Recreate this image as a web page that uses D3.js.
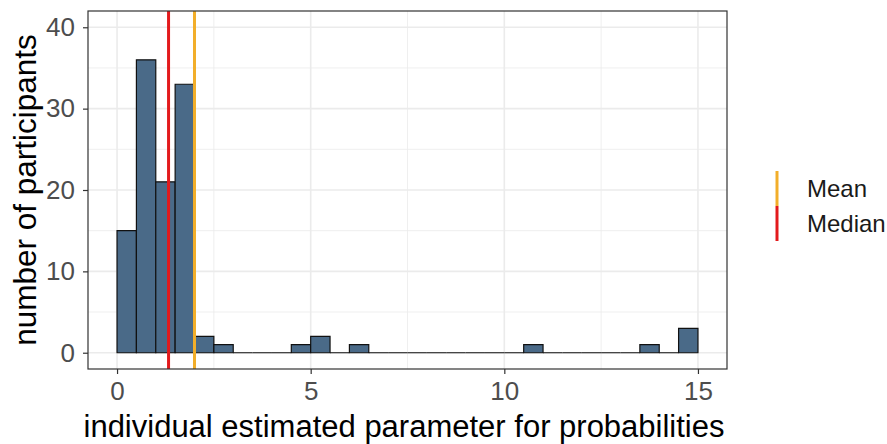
<!DOCTYPE html>
<html>
<head>
<meta charset="utf-8">
<script src="https://cdn.jsdelivr.net/npm/d3@7"></script>
<style>
  html, body { margin: 0; padding: 0; background: #fff; }
  svg { display: block; font-family: "Liberation Sans", Arial, sans-serif; }
</style>
</head>
<body>
<svg id="chart" width="887" height="444"></svg>
<script>
// Histogram bins (lower edge, upper edge) and participant counts
const binLower = [0, 0.5, 1, 1.5, 2, 2.5, 3, 3.5, 4, 4.5, 5, 5.5, 6, 6.5, 7, 7.5, 8, 8.5, 9, 9.5, 10, 10.5, 11, 11.5, 12, 12.5, 13, 13.5, 14, 14.5];
const binUpper = [0.5, 1, 1.5, 2, 2.5, 3, 3.5, 4, 4.5, 5, 5.5, 6, 6.5, 7, 7.5, 8, 8.5, 9, 9.5, 10, 10.5, 11, 11.5, 12, 12.5, 13, 13.5, 14, 14.5, 15];
const counts   = [15, 36, 21, 33, 2, 1, 0, 0, 0, 1, 2, 0, 1, 0, 0, 0, 0, 0, 0, 0, 0, 1, 0, 0, 0, 0, 0, 1, 0, 3];

// Summary statistics shown as vertical lines
const statNames  = ["Mean", "Median"];
const statValues = [2.0, 1.33];
const statColors = ["#F2AE2A", "#E31A1C"];

// Axis ticks
const xTicks = [0, 5, 10, 15];
const xMinor = [2.5, 7.5, 12.5];
const yTicks = [0, 10, 20, 30, 40];
const yMinor = [5, 15, 25, 35];

const svg = d3.select("#chart");
const panel = { left: 88, right: 727, top: 11, bottom: 369 };

const x = d3.scaleLinear().domain([-0.75, 15.75]).range([panel.left, panel.right]);
const y = d3.scaleLinear().domain([-2, 42]).range([panel.bottom, panel.top]);

const gridColor = "#EBEBEB";

// Grid lines
const grid = svg.append("g");
grid.selectAll(".ym").data(yMinor).join("line")
  .attr("x1", panel.left).attr("x2", panel.right)
  .attr("y1", d => y(d)).attr("y2", d => y(d))
  .attr("stroke", gridColor).attr("stroke-width", 0.8);
grid.selectAll(".xm").data(xMinor).join("line")
  .attr("y1", panel.top).attr("y2", panel.bottom)
  .attr("x1", d => x(d)).attr("x2", d => x(d))
  .attr("stroke", gridColor).attr("stroke-width", 0.8);
grid.selectAll(".yM").data(yTicks).join("line")
  .attr("x1", panel.left).attr("x2", panel.right)
  .attr("y1", d => y(d)).attr("y2", d => y(d))
  .attr("stroke", gridColor).attr("stroke-width", 1.6);
grid.selectAll(".xM").data(xTicks).join("line")
  .attr("y1", panel.top).attr("y2", panel.bottom)
  .attr("x1", d => x(d)).attr("x2", d => x(d))
  .attr("stroke", gridColor).attr("stroke-width", 1.6);

// Bars (drawn as paths so empty bins still show their outline at zero)
const bars = binLower.map((lo, i) => ({ lo, hi: binUpper[i], n: counts[i] }));
svg.append("g").selectAll("path").data(bars).join("path")
  .attr("d", d => `M${x(d.lo)},${y(0)}V${y(d.n)}H${x(d.hi)}V${y(0)}Z`)
  .attr("fill", "#4A6A88")
  .attr("stroke", "#111")
  .attr("stroke-width", 1.2);

// Mean / median lines
const stats = statNames.map((name, i) => ({ name, value: statValues[i], color: statColors[i] }));
svg.append("g").selectAll("line").data(stats.slice().reverse()).join("line")
  .attr("x1", d => x(d.value)).attr("x2", d => x(d.value))
  .attr("y1", panel.top).attr("y2", panel.bottom)
  .attr("stroke", d => d.color).attr("stroke-width", 3);

// Panel border
svg.append("rect")
  .attr("x", panel.left).attr("y", panel.top)
  .attr("width", panel.right - panel.left).attr("height", panel.bottom - panel.top)
  .attr("fill", "none").attr("stroke", "#333").attr("stroke-width", 1.2);

// Axes
const xAxis = d3.axisBottom(x).tickValues(xTicks).tickSize(5).tickPadding(8).tickFormat(d3.format("d"));
const yAxis = d3.axisLeft(y).tickValues(yTicks).tickSize(5).tickPadding(8).tickFormat(d3.format("d"));

const gx = svg.append("g").attr("transform", `translate(0,${panel.bottom})`).call(xAxis);
const gy = svg.append("g").attr("transform", `translate(${panel.left},0)`).call(yAxis);
[gx, gy].forEach(g => {
  g.select(".domain").remove();
  g.selectAll(".tick line").attr("stroke", "#333").attr("stroke-width", 1.2);
  g.selectAll(".tick text").attr("fill", "#4D4D4D").style("font-size", "26px")
    .style("font-family", "'Liberation Sans', Arial, sans-serif");
});

// Axis titles
svg.append("text")
  .attr("x", 404).attr("y", 437)
  .attr("text-anchor", "middle")
  .style("font-size", "31px").attr("fill", "#000")
  .text("individual estimated parameter for probabilities");

svg.append("text")
  .attr("transform", `translate(36,${(panel.top + panel.bottom) / 2}) rotate(-90)`)
  .attr("text-anchor", "middle")
  .style("font-size", "31.5px").attr("fill", "#000")
  .text("number of participants");

// Legend
const legend = svg.append("g").attr("transform", "translate(777,171)");
const keyH = 35;
stats.forEach((s, i) => {
  legend.append("line")
    .attr("x1", 0).attr("x2", 0)
    .attr("y1", i * keyH).attr("y2", (i + 1) * keyH)
    .attr("stroke", s.color).attr("stroke-width", 3);
  legend.append("text")
    .attr("x", 30).attr("y", i * keyH + keyH / 2 + 8.5)
    .style("font-size", "24px").attr("fill", "#1a1a1a")
    .text(s.name);
});
</script>
</body>
</html>
